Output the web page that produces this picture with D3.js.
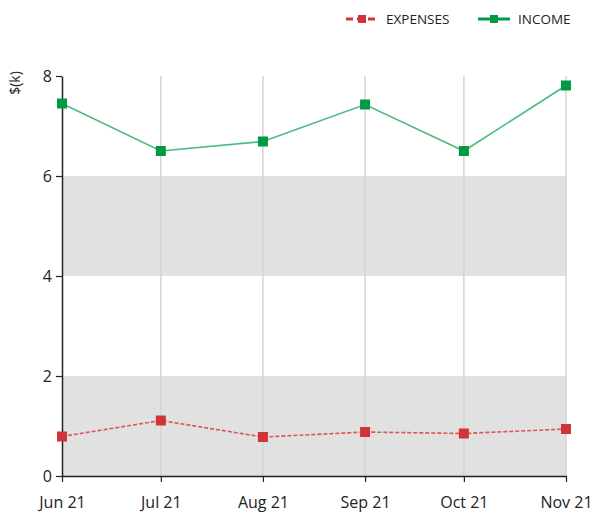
<!DOCTYPE html>
<html>
<head>
<meta charset="utf-8">
<script src="https://cdn.jsdelivr.net/npm/d3@7"></script>
<style>
  body { margin: 0; background: #fff; }
  svg { font-family: "Open Sans", "Liberation Sans", sans-serif; }
</style>
</head>
<body>
<div id="chart"></div>
<script>
const months = ['2021-06-01', '2021-07-01', '2021-08-01', '2021-09-01', '2021-10-01', '2021-11-01'];
const income = [7.45, 6.5, 6.69, 7.43, 6.5, 7.81];
const expenses = [0.79, 1.11, 0.78, 0.88, 0.85, 0.94];
const yTicks = [0, 2, 4, 6, 8];
const bands = [[0, 2], [4, 6]];   // 灰色横带

const width = 597, height = 515;
const margin = { top: 76, right: 31, bottom: 39, left: 62 };
const w = width - margin.left - margin.right,
      h = height - margin.top - margin.bottom;

const parse = d3.timeParse('%Y-%m-%d');
const dates = months.map(parse);

const svg = d3.select('#chart').append('svg')
  .attr('width', width).attr('height', height);
const g = svg.append('g').attr('transform', `translate(${margin.left},${margin.top})`);

const x = d3.scaleTime().domain(d3.extent(dates)).range([0, w]);
const y = d3.scaleLinear().domain([0, 8]).range([h, 0]);

// 背景横带
g.selectAll('.band').data(bands).enter().append('rect')
  .attr('x', 0).attr('width', w)
  .attr('y', d => y(d[1])).attr('height', d => y(d[0]) - y(d[1]))
  .attr('fill', '#e1e1e1');

// 竖向网格线
g.selectAll('.vgrid').data(dates.slice(1)).enter().append('line')
  .attr('x1', d => x(d)).attr('x2', d => x(d))
  .attr('y1', 0).attr('y2', h)
  .attr('stroke', '#d4d4d4').attr('stroke-width', 1.5);

// 坐标轴
const xAxis = g.append('g').attr('transform', `translate(0,${h})`)
  .call(d3.axisBottom(x).tickValues(dates).tickFormat(d3.timeFormat('%b %y')).tickSize(6).tickSizeOuter(0));
const yAxis = g.append('g')
  .call(d3.axisLeft(y).tickValues(yTicks).tickSize(6).tickSizeOuter(0));

[xAxis, yAxis].forEach(a => {
  a.attr('font-size', null).attr('font-family', null);
  a.select('.domain').attr('stroke', '#222').attr('stroke-width', 1.5);
  a.selectAll('.tick line').attr('stroke', '#222').attr('stroke-width', 1.2);
  a.selectAll('.tick text').attr('fill', '#222').style('font-size', '16px');
});
xAxis.selectAll('.tick text').attr('dy', '1.45em');
yAxis.selectAll('.tick text').attr('x', -10);

svg.append('text')
  .attr('transform', 'translate(20,83) rotate(-90)')
  .attr('text-anchor', 'middle')
  .style('font-size', '14px').attr('fill', '#222')
  .text('$(k)');

// 折线
const series = [
  { name: 'EXPENSES', values: expenses, line: '#d9555a', mark: '#d13438', dash: '4 2' },
  { name: 'INCOME', values: income, line: '#4cbb7f', mark: '#009944', dash: null }
];
const line = d3.line().x((d, i) => x(dates[i])).y(d => y(d));

series.forEach(s => {
  g.append('path').datum(s.values)
    .attr('d', line).attr('fill', 'none')
    .attr('stroke', s.line).attr('stroke-width', 1.6)
    .attr('stroke-dasharray', s.dash);
  g.selectAll(null).data(s.values).enter().append('rect')
    .attr('x', (d, i) => x(dates[i]) - 5).attr('y', d => y(d) - 5)
    .attr('width', 10).attr('height', 10)
    .attr('fill', s.mark);
});

// 图例
const legend = svg.append('g').attr('transform', 'translate(346,19)');
const lx = [0, 132];
series.forEach((s, i) => {
  const lg = legend.append('g').attr('transform', `translate(${lx[i]},0)`);
  lg.append('line').attr('x1', 0).attr('x2', 32).attr('y1', 0).attr('y2', 0)
    .attr('stroke', s.mark).attr('stroke-width', 3)
    .attr('stroke-dasharray', s.dash ? '7 4' : null);
  lg.append('rect').attr('x', 12).attr('y', -4).attr('width', 8).attr('height', 8).attr('fill', s.mark);
  lg.append('text').attr('x', 40).attr('y', 0).attr('dy', '0.35em')
    .style('font-size', '13.5px').attr('fill', '#222').text(s.name);
});
</script>
</body>
</html>
